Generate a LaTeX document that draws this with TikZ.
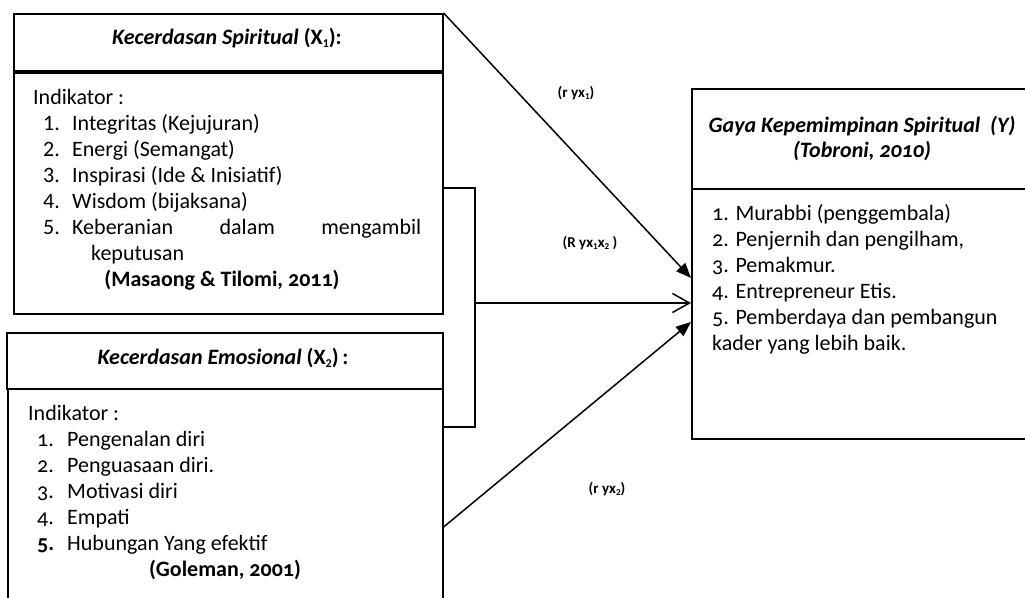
\documentclass[tikz,border=0pt]{standalone}
\usepackage{fontspec}
\setmainfont{Carlito}
\newfontfamily\oldnum{Carlito}[Numbers=OldStyle]
\usetikzlibrary{arrows.meta}
\newcommand\mysubA[1]{\raisebox{-0.35ex}{\fontsize{12}{12}\selectfont #1}}
\newcommand\mysubB[1]{\raisebox{-0.3ex}{\fontsize{9}{9}\selectfont #1}}
\tikzset{
  box/.style={draw, line width=1.6pt, inner sep=0pt, anchor=north west},
  txt/.style={inner sep=0pt, anchor=base west, font=\fontsize{22}{26}\selectfont},
  ctxt/.style={inner sep=0pt, anchor=base, font=\fontsize{22}{26}\selectfont\bfseries},
  lab/.style={inner sep=0pt, font=\fontsize{15}{18}\selectfont\bfseries},
  conn/.style={line width=1.5pt},
  solidtip/.style={-{Triangle[length=15pt,width=12pt]}},
  opentip/.style={-{Straight Barb[length=17pt,width=19pt,line width=1.5pt]}}
}
\begin{document}
\begin{tikzpicture}[x=1pt,y=-1pt]
\useasboundingbox (0,0) rectangle (1025,597);
\clip (0,0) rectangle (1025,597);

% boxes
\node[box, minimum width=429pt, minimum height=57pt] (h1) at (13,13) {};
\node[box, minimum width=429pt, minimum height=241pt] (b1) at (13,72) {};
\node[box, minimum width=436pt, minimum height=56pt] (h2) at (6,332) {};
\node[box, minimum width=435pt, minimum height=240pt] (b2) at (7,388) {};
\node[box, minimum width=360pt, minimum height=100pt] (h3) at (691,88) {};
\node[box, minimum width=360pt, minimum height=250pt] (b3) at (691,188) {};

% box 1 text
\node[ctxt] (t1) at (227,44) {\itshape Kecerdasan Spiritual\/ \upshape (X\mysubA{1}):};
\node[txt] (i1) at (33,104) {Indikator :};
\node[txt] (n11) at (43,130) {1.};
\node[txt] (l11) at (72,130) {Integritas (Kejujuran)};
\node[txt] (n12) at (43,156) {2.};
\node[txt] (l12) at (72,156) {Energi (Semangat)};
\node[txt] (n13) at (43,182) {3.};
\node[txt] (l13) at (72,182) {Inspirasi (Ide \& Inisiatif)};
\node[txt] (n14) at (43,208) {4.};
\node[txt] (l14) at (72,208) {Wisdom (bijaksana)};
\node[txt] (n15) at (43,234) {5.};
\node[txt] (l15) at (72,234) {\makebox[349pt][s]{Keberanian dalam mengambil}};
\node[txt] (l16) at (91,260) {keputusan};
\node[ctxt] (s1) at (222,286) {\oldnum (Masaong \& Tilomi, 2011)};

% box 2 text
\node[ctxt] (t2) at (223,364) {\itshape Kecerdasan Emosional\/ \upshape (X\mysubA{2})\,:};
\node[txt] (i2) at (28,420) {Indikator :};
\node[txt] (n21) at (37,446) {\oldnum 1.};
\node[txt] (l21) at (67,446) {Pengenalan diri};
\node[txt] (n22) at (37,472) {\oldnum 2.};
\node[txt] (l22) at (67,472) {Penguasaan diri.};
\node[txt] (n23) at (37,498) {\oldnum 3.};
\node[txt] (l23) at (67,498) {Motivasi diri};
\node[txt] (n24) at (37,524) {\oldnum 4.};
\node[txt] (l24) at (67,524) {Empati};
\node[txt] (n25) at (37,550) {\oldnum\bfseries 5.};
\node[txt] (l25) at (67,550) {Hubungan Yang efektif};
\node[ctxt] (s2) at (225,576) {\oldnum (Goleman, 2001)};

% box 3 text
\node[ctxt] (t3a) at (862,132) {\itshape Gaya Kepemimpinan Spiritual\ \ (Y)};
\node[ctxt] (t3b) at (862,157) {\itshape\oldnum (Tobroni, 2010)};
\node[txt] (r1) at (712,220) {\oldnum 1. Murabbi (penggembala)};
\node[txt] (r2) at (712,246) {\oldnum 2. Penjernih dan pengilham,};
\node[txt] (r3) at (712,272) {\oldnum 3. Pemakmur.};
\node[txt] (r4) at (712,298) {\oldnum 4. Entrepreneur Etis.};
\node[txt] (r5) at (712,324) {\oldnum 5. Pemberdaya dan pembangun};
\node[txt] (r6) at (712,350) {kader yang lebih baik.};

% connector labels
\node[lab] (L1) at (576,93) {(r yx\mysubB{1})};
\node[lab] (L2) at (590,243) {(R yx\mysubB{1}x\mysubB{2} )};
\node[lab] (L3) at (607,489) {(r yx\mysubB{2})};

% bracket and connectors
\coordinate (k1) at (442,188);
\coordinate (k2) at (475,188);
\coordinate (k3) at (475,303);
\coordinate (k4) at (475,427);
\coordinate (k5) at (442,427);
\draw[conn] (b1.east |- k1) -- (k2) -- (k4) -- (b2.east |- k5);
\draw[conn, opentip] (k3) -- (b3.west |- k3);
\coordinate (a1) at (691,278);
\coordinate (a2) at (691,322);
\coordinate (a3) at (442,527);
\draw[conn, solidtip] (h1.north east) -- (b3.west |- a1);
\draw[conn, solidtip] (b2.east |- a3) -- (b3.west |- a2);
\end{tikzpicture}
\end{document}
